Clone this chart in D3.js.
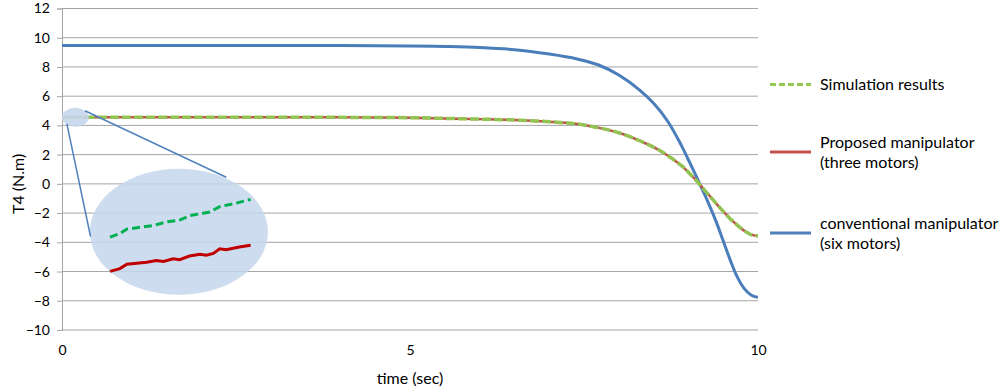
<!DOCTYPE html>
<html>
  <head>
    <meta charset="utf-8">
    <title>T4 torque</title>
    <style>
      body { margin: 0; background: #fff; }
      text { font-family: Lato, "Open Sans", sans-serif; fill: #000; }
    </style>
  </head>
  <body>
    <script src="https://d3js.org/d3.v7.min.js"></script>
    <svg id="chart" width="1000" height="391"></svg>
    <script>
      // main series, time in sec and torque in N.m
      const timeConv = [0, 2, 4, 5, 5.5, 6, 6.5, 7, 7.4, 7.7, 8.0, 8.3, 8.5, 8.7, 8.9, 9.0, 9.1, 9.2, 9.3, 9.4, 9.5, 9.6, 9.7, 9.8, 9.9, 10]
      const conventional = [9.47, 9.47, 9.46, 9.44, 9.4, 9.33, 9.18, 8.88, 8.55, 8.15, 7.45, 6.42, 5.51, 4.3, 2.62, 1.65, 0.65, -0.38, -1.45, -2.6, -3.9, -5.2, -6.35, -7.15, -7.6, -7.77]

      const timeProp = [0, 2, 4, 5, 5.5, 6, 6.5, 7, 7.4, 7.7, 8.0, 8.3, 8.6, 8.9, 9.0, 9.1, 9.2, 9.3, 9.4, 9.5, 9.6, 9.7, 9.8, 9.9, 10]
      const proposed = [4.55, 4.55, 4.55, 4.53, 4.48, 4.43, 4.37, 4.25, 4.1, 3.85, 3.5, 2.95, 2.25, 1.25, 0.8, 0.3, -0.25, -0.8, -1.35, -1.88, -2.38, -2.82, -3.2, -3.47, -3.57]
      const simulation = [4.55, 4.55, 4.55, 4.53, 4.48, 4.43, 4.37, 4.25, 4.1, 3.85, 3.5, 2.95, 2.25, 1.25, 0.8, 0.3, -0.25, -0.8, -1.35, -1.88, -2.38, -2.82, -3.2, -3.47, -3.57]

      // zoomed-in view drawn inside the big ellipse
      const insetTimeSim = [0, 0.014, 0.024, 0.043, 0.062, 0.080, 0.099, 0.114, 0.128, 0.142, 0.156, 0.175, 0.2]
      const insetSim = [4.548, 4.552, 4.557, 4.559, 4.561, 4.565, 4.567, 4.572, 4.574, 4.576, 4.582, 4.585, 4.590]
      const insetTimeProp = [0, 0.014, 0.024, 0.038, 0.052, 0.066, 0.076, 0.090, 0.099, 0.113, 0.128, 0.137, 0.147, 0.156, 0.165, 0.184, 0.2]
      const insetProp = [4.510, 4.513, 4.518, 4.519, 4.520, 4.522, 4.521, 4.524, 4.523, 4.527, 4.529, 4.528, 4.530, 4.535, 4.534, 4.537, 4.539]

      const yTicks = d3.range(-10, 13, 2)
      const xTicks = [0, 5, 10]

      const legendItems = [
        { lines: ['Simulation results'], color: '#92c94e', dash: '6,3' },
        { lines: ['Proposed manipulator', '(three motors)'], color: '#c0504d', dash: null },
        { lines: ['conventional manipulator', '(six motors)'], color: '#4f81bd', dash: null }
      ]

      const svg = d3.select('#chart')

      const x = d3.scaleLinear().domain([0, 10]).range([62, 758])
      const y = d3.scaleLinear().domain([-10, 12]).range([330, 8.5])

      // gridlines
      svg.append('g')
        .selectAll('line')
        .data(yTicks)
        .join('line')
          .attr('x1', x(0))
          .attr('x2', x(10))
          .attr('y1', d => y(d))
          .attr('y2', d => y(d))
          .attr('stroke', '#a5a5a5')
          .attr('stroke-width', 1)

      // y axis
      const yAxis = svg.append('g')
        .attr('transform', `translate(${x(0)},0)`)
        .call(d3.axisLeft(y).tickValues(yTicks).tickSize(5).tickPadding(7))
      yAxis.select('.domain').attr('stroke', '#a5a5a5')
      yAxis.selectAll('.tick line').attr('stroke', '#a5a5a5')
      yAxis.selectAll('text').style('font-size', '14px').attr('font-family', null)

      // x axis (labels only, line is the -10 gridline)
      const xAxis = svg.append('g')
        .attr('transform', `translate(0,${y(-10)})`)
        .call(d3.axisBottom(x).tickValues(xTicks).tickSize(0).tickPadding(15))
      xAxis.select('.domain').remove()
      xAxis.selectAll('text').style('font-size', '14px').attr('font-family', null)

      svg.append('text')
        .attr('x', x(5))
        .attr('y', 384)
        .attr('text-anchor', 'middle')
        .style('font-size', '16px')
        .text('time (sec)')

      svg.append('text')
        .attr('transform', `translate(24,${y(0)}) rotate(-90)`)
        .attr('text-anchor', 'middle')
        .style('font-size', '16px')
        .text('T4 (N.m)')

      const line = d3.line()
        .x(d => x(d[0]))
        .y(d => y(d[1]))
        .curve(d3.curveCatmullRom.alpha(0.5))

      svg.append('path')
        .datum(d3.zip(timeConv, conventional))
        .attr('d', line)
        .attr('fill', 'none')
        .attr('stroke', '#4a7ebb')
        .attr('stroke-width', 3)

      svg.append('path')
        .datum(d3.zip(timeProp, proposed))
        .attr('d', line)
        .attr('fill', 'none')
        .attr('stroke', '#c0504d')
        .attr('stroke-width', 2.5)

      svg.append('path')
        .datum(d3.zip(timeProp, simulation))
        .attr('d', line)
        .attr('fill', 'none')
        .attr('stroke', '#92c353')
        .attr('stroke-width', 3.5)
        .attr('stroke-dasharray', '9,3')

      // inset: small ellipse, connector lines, big ellipse
      const ins = svg.append('g')
      ins.append('ellipse')
        .attr('cx', x(0.19)).attr('cy', y(4.55))
        .attr('rx', 13.5).attr('ry', 9.5)
        .attr('fill', '#c6d6ec').attr('opacity', 0.9)
      ins.append('ellipse')
        .attr('cx', x(1.68)).attr('cy', y(-3.28))
        .attr('rx', 89).attr('ry', 63)
        .attr('fill', '#c6d6ec').attr('opacity', 0.85)
      ins.append('line')
        .attr('x1', x(0.07)).attr('y1', y(4.1))
        .attr('x2', x(0.41)).attr('y2', y(-3.6))
        .attr('stroke', '#4f81bd').attr('stroke-width', 1.5)
      ins.append('line')
        .attr('x1', x(0.33)).attr('y1', y(5.0))
        .attr('x2', x(2.36)).attr('y2', y(0.45))
        .attr('stroke', '#4f81bd').attr('stroke-width', 1.5)

      const ix = d3.scaleLinear().domain([0, 0.2]).range([x(0.69), x(2.71)])
      const iy = d3.scaleLinear().domain([4.5, 4.6]).range([y(-6.6), y(-0.45)])
      const insetLine = d3.line().x(d => ix(d[0])).y(d => iy(d[1]))

      ins.append('path')
        .datum(d3.zip(insetTimeSim, insetSim))
        .attr('d', insetLine)
        .attr('fill', 'none')
        .attr('stroke', '#00b050')
        .attr('stroke-width', 3)
        .attr('stroke-dasharray', '8,4')

      ins.append('path')
        .datum(d3.zip(insetTimeProp, insetProp))
        .attr('d', insetLine)
        .attr('fill', 'none')
        .attr('stroke', '#c00000')
        .attr('stroke-width', 3)

      // legend
      const legendY = [84.5, 152, 233]
      const leg = svg.append('g')
        .selectAll('g')
        .data(legendItems)
        .join('g')
          .attr('transform', (d, i) => `translate(770,${legendY[i]})`)

      leg.append('line')
        .attr('x1', 0).attr('x2', 41)
        .attr('stroke', d => d.color)
        .attr('stroke-width', 3)
        .attr('stroke-dasharray', d => d.dash)

      leg.append('text')
        .attr('x', 50)
        .attr('y', d => d.lines.length > 1 ? -4 : 5)
        .style('font-size', '16px')
        .selectAll('tspan')
        .data(d => d.lines)
        .join('tspan')
          .attr('x', 50)
          .attr('dy', (d, i) => i === 0 ? 0 : 20)
          .text(d => d)
    </script>
  </body>
</html>
